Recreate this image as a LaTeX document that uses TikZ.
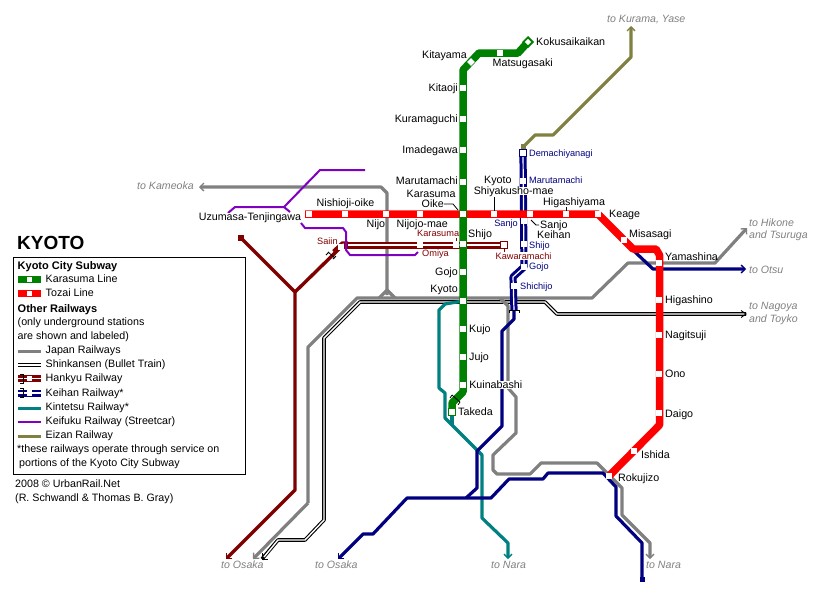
\documentclass[tikz,border=0pt]{standalone}
\usepackage{fontspec}
\setmainfont{Liberation Sans}
\usetikzlibrary{arrows.meta,calc}
\definecolor{cgreen}{HTML}{008000}
\definecolor{cred}{HTML}{FF0000}
\definecolor{cnavy}{HTML}{000080}
\definecolor{cteal}{HTML}{008080}
\definecolor{cpurple}{HTML}{8000C0}
\definecolor{colive}{HTML}{808040}
\definecolor{cdred}{HTML}{800000}
\definecolor{cgray}{HTML}{808080}
\tikzset{
  rail/.style={line width=3.2pt,line join=bevel},
  jr/.style={rail,draw=cgray},
  keihan/.style={rail,draw=cnavy},
  kintetsu/.style={rail,draw=cteal},
  eizan/.style={rail,draw=colive},
  hankyu/.style={line width=3.4pt,line join=bevel,draw=cdred},
  keifuku/.style={line width=2pt,line join=bevel,draw=cpurple},
  subway/.style={line width=7.5pt,line join=bevel},
  barb/.style={-{Straight Barb[length=4pt,width=8pt,line width=1.3pt]}},
  sta/.style={rectangle,fill=white,inner sep=0pt,minimum size=5.4pt},
  term/.style={sta,draw=#1,line width=1pt,minimum size=6.5pt},
  lbl/.style={inner sep=0pt,text height=8pt,text depth=2pt,font=\fontsize{10.7}{12}\selectfont,text=black},
  lblw/.style={lbl,fill=white,inner xsep=0.6pt,inner ysep=0pt,text height=7.5pt,text depth=0.5pt},
  nlbl/.style={inner sep=0pt,text height=7pt,text depth=1.5pt,font=\fontsize{9.2}{11}\selectfont,text=cnavy},
  rlbl/.style={inner sep=0pt,text height=7pt,text depth=1.5pt,font=\fontsize{9.2}{11}\selectfont,text=cdred},
  dest/.style={inner sep=0pt,text height=8pt,text depth=2pt,font=\fontsize{10.6}{12}\itshape\selectfont,text=cgray},
  leg/.style={inner sep=0pt,text height=8pt,text depth=2pt,anchor=west,font=\fontsize{10.7}{12}\selectfont},
  legb/.style={inner sep=0pt,text height=8pt,text depth=2pt,anchor=west,font=\fontsize{11}{12}\bfseries\selectfont},
  leader/.style={line width=0.8pt,draw=black},
  tun/.style={line width=0.8pt,draw=black},
}
\begin{document}
\begin{tikzpicture}[x=1pt,y=-1pt]
\useasboundingbox (0,0) rectangle (813,598);
% station positions
\foreach \n/\x/\y in {
 kok/528/42,mat/500/53,kit/471/62,kto/463/88,kur/463/119,ima/463/150,mar/463/182,oik/463/214,shi/463/244,goj/463/272,kyo/463/301,kuj/463/329,juj/463/357,kui/463/385,tak/452/412,
 nis/309/214,nij/345/214,nik/386/214,njm/420/214,shy/494/214,san/530/214,hig/566/214,kea/598/214,mis/624/240,yam/659/263,hgn/659/300,nag/659/335,ono/659/374,dai/659/413,ish/634/451,rok/609/476,
 dem/523/153,kmr/523/181,ksa/524/221,ksh/524/244,kgo/524/267,ksc/514/286,
 sai/341/247,omi/420/245,hka/456/245,kaw/504/245}
 {\coordinate (\n) at (\x,\y);}
\coordinate (kameoka) at (199,187);
\coordinate (hikone) at (747,228);
\coordinate (otsu) at (746,269);
\coordinate (nagoya) at (746,314);
\coordinate (kurama) at (631,26);
\coordinate (osakaA) at (226,559);
\coordinate (osakaB) at (253,559);
\coordinate (osakaC) at (262,559);
\coordinate (osakaD) at (338,559);
\coordinate (naraA) at (508,559);
\coordinate (naraB) at (650,559);
\coordinate (hterm) at (241,238);
\coordinate (kterm) at (642,580);
% Shinkansen
\draw[line width=3.6pt,line join=bevel,draw=black] (nagoya) -- (557,314) -- (545,302) -- (360,302) -- (324,338) -- (324,520) -- (305,540) -- (278,540) -- (osakaC);
\draw[line width=1.4pt,line join=bevel,draw=white] (745,314) -- (557,314) -- (545,302) -- (360,302) -- (324,338) -- (324,520) -- (305,540) -- (278,540) -- (264,557);
\draw[line width=0.9pt] (741,310.5) -- (746,314) -- (741,317.5);
\draw[line width=0.9pt] (262,553) -- (262,559) -- (268,559);
% JR
\draw[jr,barb] (387,295) -- (387,193) -- (381,187) -- (kameoka);
\draw[jr] (379,298) -- (387,290) -- (395,298);
\draw[jr,barb] (308,503) -- (osakaB);
\draw[jr,barb] (308,503) -- (308,347) -- (357,298) -- (592,298) -- (628,263) -- (715,263) -- (hikone);
\draw[jr,barb] (500,298) -- (508,306) -- (508,388) -- (516,397) -- (516,433) -- (493,455) -- (493,470) -- (497,474) -- (530,474) -- (541,463) -- (597,463) -- (622,488) -- (622,515) -- (650,543) -- (naraB);
% Hankyu
\draw[hankyu,barb] (hterm) -- (295,292) -- (295,490) -- (osakaA);
\draw[hankyu] (295,292) -- (sai);
\draw[line width=7pt,draw=cdred] (344,245) -- (kaw);
\draw[line width=1.2pt,draw=white] (348,245) -- (kaw);
\fill[cdred] ($(hterm)+(-3,-3)$) rectangle ($(hterm)+(3,3)$);
\draw[line width=2.4pt,line join=bevel,draw=cdred] (333,251) -- (342,242.5) -- (348,242.5);
\draw[tun] (328,252) -- (335,258) (326,255) -- (329,252) (333,259) -- (336,256);
% Keifuku
\draw[keifuku] (301,223) -- (305,228) -- (343,228) -- (346,232) -- (346,250) -- (350,255) -- (415,255) -- (418,252);
\draw[keifuku] (365,170) -- (320,170) -- (284,207) -- (235,207) -- (228,213);
\draw[keifuku] (284,207) -- (290,212);
% Kintetsu
\draw[kintetsu,barb] (kyo) -- (445,304) -- (439,310) -- (439,388) -- (445,393) -- (445,418) -- (482,455) -- (482,518) -- (508,543) -- (naraA);
\draw[kintetsu] (tak) -- (452,425);
% Keihan
\draw[line width=7.2pt,draw=cnavy,line join=bevel] (dem) -- (kgo) -- (513,277) -- (514,310);
\draw[line width=1.2pt,draw=white,line join=bevel] (dem) -- (kgo) -- (513,277) -- (514,310);
\draw[keihan] (514,310) -- (514,319) -- (502,331) -- (502,426) -- (477,451) -- (477,488) -- (466,498);
\draw[keihan,barb] (kterm) -- (642,543) -- (616,516) -- (616,487) -- (603,473) -- (548,473) -- (543,479) -- (509,479) -- (491,498) -- (407,498) -- (373,534) -- (363,534) -- (osakaD);
\draw[keihan,barb] (635,252) -- (653,269) -- (otsu);
\fill[cnavy] ($(kterm)+(-2.5,-3)$) rectangle ($(kterm)+(2.5,2)$);
\draw[tun] (509,313) -- (509,310) -- (519,310) -- (519,313);
% Eizan
\draw[eizan,barb] (523,147) -- (535,135) -- (553,135) -- (631,57) -- (kurama);
\fill[colive] (520.5,144) rectangle (525.5,149);
% Tozai
\draw[subway,draw=cred] (305,214) -- (kea) -- (633,249) -- (656,249) -- (659.5,255) -- (659.5,425) -- (rok);
% Karasuma
\draw[subway,draw=cgreen] (kok) -- (518,53) -- (479,53) -- (463,70) -- (463,392) -- (452,403) -- (tak);
\node[fill=cgreen,rectangle,rotate=45,minimum size=8.5pt,inner sep=0pt] (kokhead) at (kok) {};
\draw[tun] (452,395) -- (460,402) (450,398) -- (452,395) (458,405) -- (460,402);
% stations
\foreach \n in {mat,kto,kur,ima,mar,oik,shi,goj,kyo,kuj,juj,kui,nis,nij,nik,njm,shy,san,hig,kea,mis,yam,hgn,nag,ono,dai,ish,rok,kmr,ksa,ksh,kgo,ksc,sai,omi,hka}
 {\node[sta] (s-\n) at (\n) {};}
\node[sta,rotate=45] (s-kit) at (kit) {};
\node[sta,rotate=45,minimum size=4.4pt] (s-kok) at (kok) {};
\node[term=cgreen] (s-tak) at (tak) {};
\node[term=cnavy] (s-dem) at (dem) {};
\node[term=cdred] (s-kaw) at (kaw) {};
% leaders
\draw[leader] (444,204) -- (453,204) -- (458,210);
\draw[leader] (494,197) -- (494,211);
\draw[leader] (566,207) -- (566,211);
\draw[leader] (531,220) -- (536,225) -- (539,225);
\draw[line width=0.8pt,draw=cdred] (456,238) -- (456,241);
\draw[line width=0.8pt,draw=cdred] (504,249) -- (504,252);
% labels
\node[lbl,anchor=west] (l1) at (536,42) {Kokusaikaikan};
\node[lbl,anchor=west] (l2) at (492.5,63) {Matsugasaki};
\node[lbl,anchor=east] (l3) at (467,55) {Kitayama};
\node[lbl,anchor=east] (l4) at (458,88) {Kitaoji};
\node[lbl,anchor=east] (l5) at (458,119) {Kuramaguchi};
\node[lbl,anchor=east] (l6) at (458,150) {Imadegawa};
\node[lbl,anchor=east] (l7) at (458,181) {Marutamachi};
\node[lbl,anchor=west] (l8) at (406.5,194) {Karasuma};
\node[lbl,anchor=west] (l9) at (421.5,204) {Oike};
\node[lbl,anchor=west] (l10) at (484,180) {Kyoto};
\node[lblw,anchor=west] (l11) at (473,191) {Shiyakusho-mae};
\node[lbl,anchor=west] (l12) at (316.5,203) {Nishioji-oike};
\node[lbl,anchor=west] (l13) at (366.5,224) {Nijo};
\node[lbl,anchor=west] (l14) at (396.5,224) {Nijojo-mae};
\node[lbl,anchor=west] (l15) at (468,234) {Shijo};
\node[lbl,anchor=east] (l16) at (458,272) {Gojo};
\node[lbl,anchor=east] (l17) at (458,289) {Kyoto};
\node[lbl,anchor=west] (l18) at (543,202) {Higashiyama};
\node[lbl,anchor=west] (l19) at (540,225) {Sanjo};
\node[lbl,anchor=west] (l20) at (537,235) {Keihan};
\node[lbl,anchor=west] (l21) at (609,214) {Keage};
\node[lbl,anchor=west] (l22) at (629,234) {Misasagi};
\node[lbl,anchor=west] (l23) at (665,257) {Yamashina};
\node[lbl,anchor=west] (l24) at (665,300) {Higashino};
\node[lbl,anchor=west] (l25) at (665,335) {Nagitsuji};
\node[lbl,anchor=west] (l26) at (665,374) {Ono};
\node[lbl,anchor=west] (l27) at (665,414) {Daigo};
\node[lbl,anchor=west] (l28) at (641,455) {Ishida};
\node[lbl,anchor=west] (l29) at (618,478) {Rokujizo};
\node[lbl,anchor=west] (l30) at (469,329) {Kujo};
\node[lbl,anchor=west] (l31) at (469,357) {Jujo};
\node[lblw,anchor=west] (l32) at (468.5,385) {Kuinabashi};
\node[lbl,anchor=west] (l33) at (458,412) {Takeda};
\node[lblw,anchor=west] (l34) at (198,217) {Uzumasa-Tenjingawa};
\node[nlbl,anchor=east] (n1) at (518,224) {Sanjo};
\node[nlbl,anchor=west] (n2) at (529,154) {Demachiyanagi};
\node[nlbl,anchor=west] (n3) at (529,181) {Marutamachi};
\node[nlbl,anchor=west] (n4) at (529,246) {Shijo};
\node[nlbl,anchor=west] (n5) at (529,267) {Gojo};
\node[nlbl,anchor=west] (n6) at (520,287) {Shichijo};
\node[rlbl,anchor=west] (r1) at (417,234) {Karasuma};
\node[rlbl,anchor=west] (r2) at (317,242) {Saiin};
\node[rlbl,anchor=west] (r3) at (422,254) {Omiya};
\node[rlbl,anchor=west,fill=white,inner xsep=0.5pt,inner ysep=0pt,text height=6.8pt,text depth=0.3pt] (r4) at (495,256) {Kawaramachi};
\node[dest,anchor=west] (d1) at (607,19) {to Kurama, Yase};
\node[dest,anchor=west] (d2) at (137,186) {to Kameoka};
\node[dest,anchor=west] (d3) at (749,223) {to Hikone};
\node[dest,anchor=west] (d4) at (749,235) {and Tsuruga};
\node[dest,anchor=west] (d5) at (749,270) {to Otsu};
\node[dest,anchor=west] (d6) at (749,306) {to Nagoya};
\node[dest,anchor=west] (d7) at (749,319) {and Toyko};
\node[dest,anchor=west] (d8) at (221,565) {to Osaka};
\node[dest,anchor=west] (d9) at (315,565) {to Osaka};
\node[dest,anchor=west] (d10) at (491,565) {to Nara};
\node[dest,anchor=west] (d11) at (646,565) {to Nara};
% legend
\node[inner sep=0pt,anchor=west,font=\fontsize{19}{20}\bfseries\selectfont] (title) at (17,243) {KYOTO};
\node[draw=black,line width=1pt,fill=none,minimum width=232pt,minimum height=217pt,inner sep=0pt,anchor=north west] (legbox) at (12.5,256.5) {};
\node[legb] (t1) at (17.5,266) {Kyoto City Subway};
\node[leg] (t2) at (45.5,279) {Karasuma Line};
\node[leg] (t3) at (45.5,293) {Tozai Line};
\node[legb] (t4) at (17.5,309) {Other Railways};
\node[leg] (t5) at (17.5,322) {(only underground stations};
\node[leg] (t6) at (17.5,336) {are shown and labeled)};
\node[leg] (t7) at (45.5,350) {Japan Railways};
\node[leg] (t8) at (45.5,364) {Shinkansen (Bullet Train)};
\node[leg] (t9) at (45.5,378) {Hankyu Railway};
\node[leg] (t10) at (45.5,393) {Keihan Railway*};
\node[leg] (t11) at (45.5,407) {Kintetsu Railway*};
\node[leg] (t12) at (45.5,421) {Keifuku Railway (Streetcar)};
\node[leg] (t13) at (45.5,435) {Eizan Railway};
\node[leg] (t14) at (17,449) {*these railways operate through service on};
\node[leg] (t15) at (19,463) {portions of the Kyoto City Subway};
\node[leg] (t16) at (15,484) {2008 © UrbanRail.Net};
\node[leg] (t17) at (15,498) {(R. Schwandl \& Thomas B. Gray)};
% legend swatches
\draw[line width=7pt,draw=cgreen] (18,279.5) -- (41,279.5);
\node[sta,minimum width=5pt] (k1) at (29.5,279.5) {};
\draw[line width=7pt,draw=cred] (18,293.5) -- (41,293.5);
\node[sta,minimum width=5pt] (k2) at (29.5,293.5) {};
\draw[line width=3pt,draw=cgray] (18,351) -- (41,351);
\draw[line width=3.4pt,draw=black] (18,365) -- (41,365);
\draw[line width=1.3pt,draw=white] (18,365) -- (41,365);
\draw[line width=7pt,draw=cdred] (18,378.5) -- (41,378.5);
\draw[line width=1.2pt,draw=white] (18,378.5) -- (41,378.5);
\node[sta,minimum width=5pt] (k3) at (29.5,378.5) {};
\draw[line width=1pt] (20,374) -- (23,374) -- (23,383) -- (20,383);
\draw[line width=7pt,draw=cnavy] (18,393) -- (41,393);
\draw[line width=1.2pt,draw=white] (18,393) -- (41,393);
\node[sta,minimum width=5pt] (k4) at (29.5,393) {};
\draw[line width=1pt] (20,388.5) -- (23,388.5) -- (23,397.5) -- (20,397.5);
\draw[line width=3pt,draw=cteal] (18,408) -- (41,408);
\draw[line width=2pt,draw=cpurple] (18,421.5) -- (41,421.5);
\draw[line width=3pt,draw=colive] (18,436) -- (41,436);
\end{tikzpicture}
\end{document}
